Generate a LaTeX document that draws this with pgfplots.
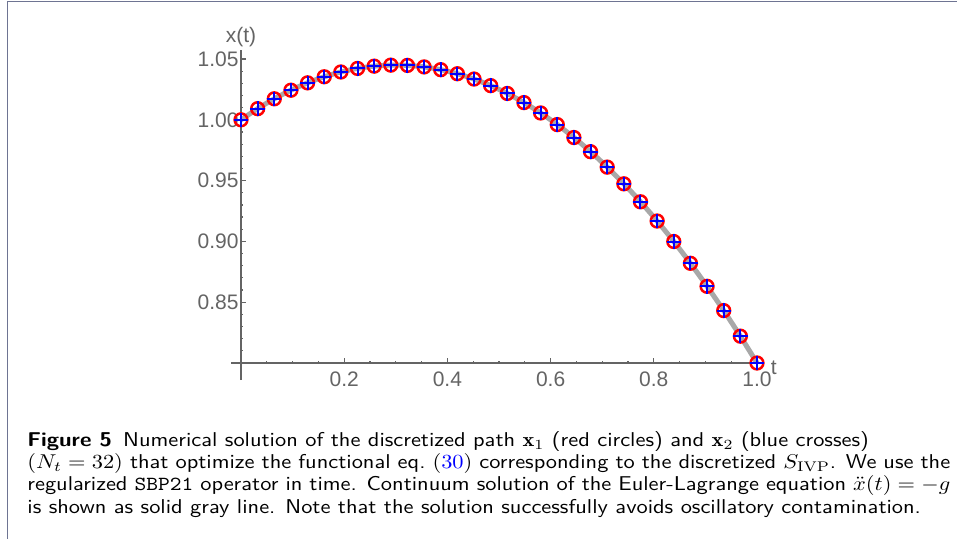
\documentclass[border=0pt]{standalone}
\usepackage{fontspec}
\usepackage{graphicx}
\usepackage{pgfplots}
\pgfplotsset{compat=1.18}
\usepackage{pgfplotstable}
\newfontfamily\mma{Liberation Sans}
\definecolor{axisgray}{RGB}{100,100,100}
\definecolor{pathgray}{RGB}{168,168,168}
\definecolor{framecol}{RGB}{110,116,146}

% path samples, N_t = 32 points on [0,1]
\pgfplotstableread{
t        x
0.000000 1.000000
0.032258 1.009157
0.064516 1.017274
0.096774 1.024350
0.129032 1.030385
0.161290 1.035380
0.193548 1.039334
0.225806 1.042248
0.258065 1.044121
0.290323 1.044953
0.322581 1.044745
0.354839 1.043496
0.387097 1.041207
0.419355 1.037877
0.451613 1.033507
0.483871 1.028095
0.516129 1.021644
0.548387 1.014152
0.580645 1.005620
0.612903 0.996046
0.645161 0.985431
0.677419 0.973778
0.709677 0.961082
0.741935 0.947347
0.774194 0.932570
0.806452 0.916753
0.838710 0.899896
0.870968 0.881998
0.903226 0.863060
0.935484 0.843080
0.967742 0.822061
1.000000 0.800000
}\pathdata

\begin{document}
\begin{tikzpicture}
\useasboundingbox (0pt,0pt) rectangle (478.5pt,-269.5pt);
\draw[framecol, line width=0.8pt] (3.75pt,-269.5pt) -- (3.75pt,-0.75pt) -- (478.5pt,-0.75pt);

\begin{axis}[
    at={(120.5pt,-181.5pt)}, anchor=south west,
    scale only axis, width=258pt, height=152pt,
    xmin=0, xmax=1, ymin=0.8, ymax=1.05,
    axis x line*=bottom, axis y line*=left,
    axis line style={axisgray, line width=0.8pt},
    x axis line style={shorten <=-5pt, shorten >=-3pt},
    y axis line style={shorten <=-8.5pt, shorten >=-4.5pt},
    clip=false,
    tick align=inside,
    major tick length=2.5pt, minor tick length=1.2pt,
    every tick/.style={axisgray, line width=0.6pt},
    xtick={0.2,0.4,0.6,0.8,1.0},
    xticklabels={0.2,0.4,0.6,0.8,1.0},
    minor xtick={0.05,0.1,0.15,0.25,0.3,0.35,0.45,0.5,0.55,0.65,0.7,0.75,0.85,0.9,0.95},
    ytick={0.85,0.9,0.95,1.0,1.05},
    yticklabels={0.85,0.90,0.95,1.00,1.05},
    minor ytick={0.81,0.82,0.83,0.84,0.86,0.87,0.88,0.89,0.91,0.92,0.93,0.94,0.96,0.97,0.98,0.99,1.01,1.02,1.03,1.04},
    /pgf/number format/assume math mode=true,
    ticklabel style={font=\mma\fontsize{10.5}{12}\selectfont, text=axisgray, inner sep=0pt},
    xticklabel style={anchor=north, yshift=-4pt},
    yticklabel style={anchor=east, xshift=-1pt},
    xlabel={t}, ylabel={x(t)},
    every axis x label/.style={at={(axis description cs:1.026,0)}, anchor=west, yshift=-2.5pt,
        font=\mma\fontsize{10.5}{12}\selectfont, text=axisgray, inner sep=0pt},
    every axis y label/.style={at={(axis description cs:0,1)}, anchor=center, yshift=11pt,
        font=\mma\fontsize{10.5}{12}\selectfont, text=axisgray, inner sep=0pt},
]
\addplot[pathgray, line width=2.5pt, smooth] table[x=t, y=x] {\pathdata};
\addplot[only marks, mark=o, mark size=3.2pt, red, mark options={line width=1.25pt}] table[x=t, y=x] {\pathdata};
\addplot[only marks, mark=+, mark size=3.6pt, blue, mark options={line width=1pt}] table[x=t, y=x] {\pathdata};
\end{axis}

\node[anchor=base west, inner sep=0pt] at (13.5pt,-223.25pt) {\scalebox{1.12}[1]{\parbox[t]{412pt}{\fontsize{10}{11.1}\selectfont\sffamily
\textbf{Figure 5}\enspace Numerical solution of the discretized path $\mathbf{x}_1$ (red circles) and $\mathbf{x}_2$ (blue crosses)\newline
$(N_t = 32)$ that optimize the functional eq.~$(\textcolor{blue}{30})$ corresponding to the discretized $S_{\mathrm{IVP}}$. We use the\linebreak
regularized \texttt{SBP21} operator in time. Continuum solution of the Euler-Lagrange equation $\ddot{x}(t) = -g$\linebreak
is shown as solid gray line. Note that the solution successfully avoids oscillatory contamination.}}};
\end{tikzpicture}
\end{document}
